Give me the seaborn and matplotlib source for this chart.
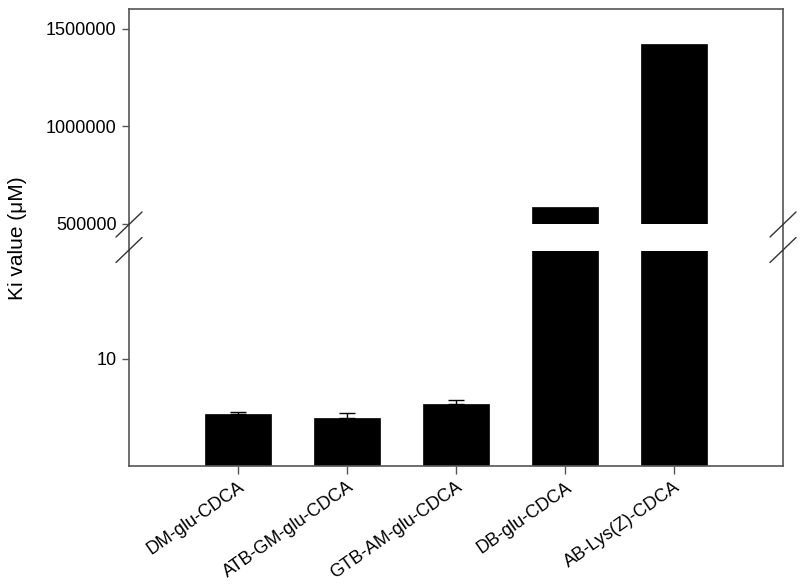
import matplotlib
matplotlib.use("Agg")
import matplotlib.pyplot as plt
import seaborn as sns
import pandas as pd
from matplotlib.lines import Line2D

sns.set_theme(style="white")
plt.rcParams['font.family'] = ['Liberation Sans', 'DejaVu Sans']

categories = ["DM-glu-CDCA", "ATB-GM-glu-CDCA", "GTB-AM-glu-CDCA", "DB-glu-CDCA", "AB-Lys(Z)-CDCA"]
ki_values = [4.8, 4.45, 5.75, 588000, 1420000]
ki_err = [0.2, 0.45, 0.4, 0, 0]

df = pd.DataFrame({"compound": categories, "ki": ki_values})

W, H = 800, 585
fig = plt.figure(figsize=(8, 5.85), dpi=100)
left, right = 129 / W, 783 / W
up_top, up_bot = 9, 224
lo_top, lo_bot = 251, 466
ax_up = fig.add_axes([left, 1 - up_bot / H, right - left, (up_bot - up_top) / H])
ax_lo = fig.add_axes([left, 1 - lo_bot / H, right - left, (lo_bot - lo_top) / H])

spine_col = "#555555"
for ax in (ax_up, ax_lo):
    sns.barplot(data=df, x="compound", y="ki", color="black", saturation=1,
                width=0.6, errorbar=None, ax=ax, edgecolor="black", linewidth=0.5)
    ax.set_xlim(-1, 5)
    for s in ax.spines.values():
        s.set_color(spine_col)
        s.set_linewidth(1.2)
    ax.set_xlabel("")
    ax.set_ylabel("")
    ax.tick_params(axis="y", which="both", direction="out", length=5, width=1,
                   color=spine_col, labelsize=13, labelcolor="black", left=True, pad=4)

# error bars (upper only) on the lower panel
xs = list(range(len(categories)))
ax_lo.errorbar(xs[:3], ki_values[:3], yerr=[[0, 0, 0], ki_err[:3]], fmt="none",
               ecolor="black", elinewidth=1, capsize=6, capthick=1)

ax_up.set_ylim(500000, 1600000)
ax_up.set_yticks([500000, 1000000, 1500000])
ax_up.set_yticklabels(["500000", "1000000", "1500000"])
ax_up.spines["bottom"].set_visible(False)
ax_up.tick_params(axis="x", bottom=False, labelbottom=False)

ax_lo.set_ylim(0, 20)
ax_lo.set_yticks([10])
ax_lo.set_yticklabels(["10"])
ax_lo.spines["top"].set_visible(False)
ax_lo.tick_params(axis="x", bottom=True, direction="out", length=6, width=1,
                  color=spine_col, labelsize=13, labelcolor="black", pad=3)
ax_lo.set_xticks(xs)
ax_lo.set_xticklabels(categories, rotation=35, ha="right", rotation_mode="anchor")

# continuous spines across the gap
for xp in (129, 783):
    fig.add_artist(Line2D([xp / W, xp / W], [1 - up_bot / H, 1 - lo_top / H],
                          color=spine_col, lw=1.2, transform=fig.transFigure))

# break marks
def slash(xc, yc):
    fig.add_artist(Line2D([(xc - 13) / W, (xc + 13) / W],
                          [1 - (yc + 12.5) / H, 1 - (yc - 12.5) / H],
                          color="#333333", lw=1, transform=fig.transFigure))

for xp in (129, 783):
    slash(xp, 224.5)
    slash(xp, 250)

fig.text(18 / W, 1 - 238 / H, "Ki value (\u03bcM)", rotation=90, va="center",
         ha="center", fontsize=15, color="black")

fig.savefig("out.png", dpi=100)
